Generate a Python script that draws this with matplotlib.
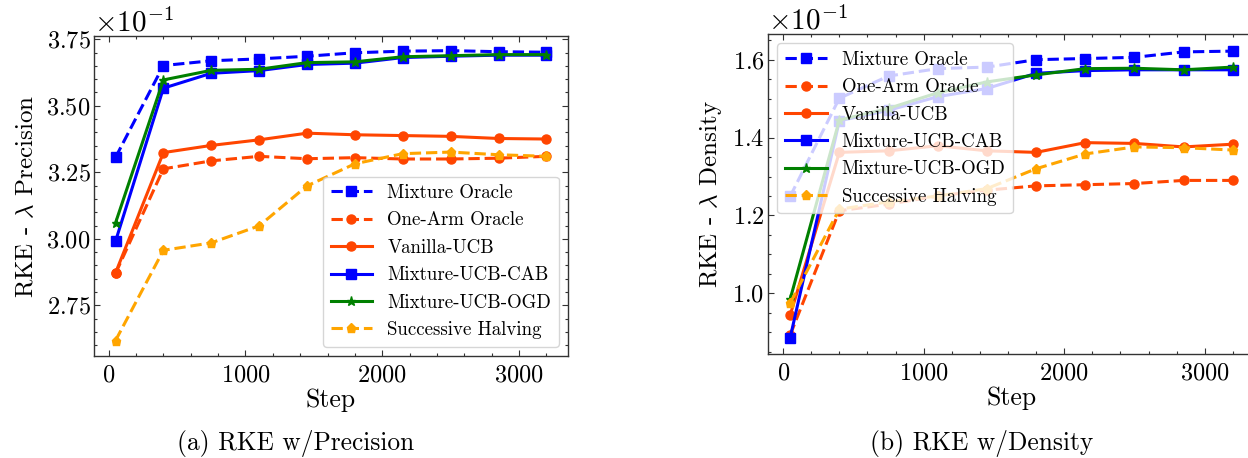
import matplotlib
matplotlib.use("Agg")
import matplotlib.pyplot as plt
from matplotlib.ticker import ScalarFormatter, AutoMinorLocator, MultipleLocator

plt.rcParams.update({
    "font.family": "serif",
    "font.serif": ["cmr10"],
    "mathtext.fontset": "cm",
    "axes.formatter.use_mathtext": True,
    "axes.unicode_minus": False,
})

steps = [50, 400, 750, 1100, 1450, 1800, 2150, 2500, 2850, 3200]

methods = ["Mixture Oracle", "One-Arm Oracle", "Vanilla-UCB",
           "Mixture-UCB-CAB", "Mixture-UCB-OGD", "Successive Halving"]

# RKE - lambda * Precision
prec_mixture_oracle = [0.3306, 0.3651, 0.3669, 0.3676, 0.3686, 0.3699, 0.3705, 0.3707, 0.3703, 0.3701]
prec_one_arm_oracle = [0.2870, 0.3263, 0.3293, 0.3310, 0.3301, 0.3305, 0.3300, 0.3300, 0.3303, 0.3310]
prec_vanilla_ucb = [0.2872, 0.3324, 0.3351, 0.3372, 0.3397, 0.3391, 0.3388, 0.3385, 0.3377, 0.3375]
prec_mixture_cab = [0.2991, 0.3566, 0.3622, 0.3632, 0.3655, 0.3660, 0.3681, 0.3686, 0.3690, 0.3690]
prec_mixture_ogd = [0.3060, 0.3597, 0.3633, 0.3637, 0.3662, 0.3665, 0.3684, 0.3688, 0.3692, 0.3692]
prec_succ_halving = [0.2618, 0.2957, 0.2985, 0.3049, 0.3199, 0.3282, 0.3320, 0.3326, 0.3316, 0.3310]

# RKE - lambda * Density
dens_mixture_oracle = [0.1249, 0.1501, 0.1558, 0.1577, 0.1581, 0.1600, 0.1603, 0.1606, 0.1620, 0.1622]
dens_one_arm_oracle = [0.0893, 0.1212, 0.1229, 0.1250, 0.1265, 0.1276, 0.1279, 0.1282, 0.1290, 0.1290]
dens_vanilla_ucb = [0.0944, 0.1362, 0.1366, 0.1379, 0.1366, 0.1362, 0.1387, 0.1385, 0.1376, 0.1383]
dens_mixture_cab = [0.0886, 0.1443, 0.1470, 0.1505, 0.1526, 0.1565, 0.1572, 0.1574, 0.1574, 0.1574]
dens_mixture_ogd = [0.0985, 0.1445, 0.1475, 0.1515, 0.1543, 0.1561, 0.1577, 0.1578, 0.1574, 0.1581]
dens_succ_halving = [0.0975, 0.1216, 0.1235, 0.1250, 0.1269, 0.1320, 0.1358, 0.1376, 0.1374, 0.1368]

styles = [
    dict(color="#0000FF", ls="--", marker="s"),
    dict(color="#FF4500", ls="--", marker="o"),
    dict(color="#FF4500", ls="-", marker="o"),
    dict(color="#0000FF", ls="-", marker="s"),
    dict(color="#008000", ls="-", marker="*"),
    dict(color="#FFA500", ls="--", marker="p"),
]

fig = plt.figure(figsize=(12.48, 4.58), dpi=100)
ax1 = fig.add_axes([0.0753, 0.2227, 0.3798, 0.6987])
ax2 = fig.add_axes([0.6154, 0.2260, 0.3902, 0.6998])

panels = [
    (ax1, [prec_mixture_oracle, prec_one_arm_oracle, prec_vanilla_ucb,
           prec_mixture_cab, prec_mixture_ogd, prec_succ_halving],
     r"RKE - $\lambda$ Precision", "lower right"),
    (ax2, [dens_mixture_oracle, dens_one_arm_oracle, dens_vanilla_ucb,
           dens_mixture_cab, dens_mixture_ogd, dens_succ_halving],
     r"RKE - $\lambda$ Density", "upper left"),
]

for ax, series, ylabel, loc in panels:
    for name, vals, st in zip(methods, series, styles):
        ax.plot(steps, vals, label=name, lw=2.2, markersize=6.5, **st)
    ax.set_xlabel("Step", fontsize=18.5, labelpad=1)
    ax.set_ylabel(ylabel, fontsize=18, labelpad=6)
    fmt = ScalarFormatter(useMathText=True)
    fmt.set_powerlimits((0, 0))
    ax.yaxis.set_major_formatter(fmt)
    ax.yaxis.get_offset_text().set_fontsize(21)
    ax.xaxis.set_major_locator(MultipleLocator(1000))
    ax.xaxis.set_minor_locator(MultipleLocator(200))
    ax.yaxis.set_minor_locator(AutoMinorLocator())
    ax.tick_params(which="both", direction="in", top=True, right=True,
                   labelsize=17.5, width=0.8, colors="#333333", labelcolor="black")
    ax.tick_params(which="major", length=4)
    ax.tick_params(which="minor", length=2)
    ax.tick_params(axis="y", which="major", pad=2.5)
    ax.tick_params(axis="x", which="major", pad=6)
    for sp in ax.spines.values():
        sp.set_linewidth(1.0)
        sp.set_color("#333333")
    ax.legend(loc=loc, fontsize=13.6, framealpha=0.8, handlelength=2.2,
              labelspacing=0.5)

ax1.set_yticks([0.275, 0.300, 0.325, 0.350, 0.375])
ax1.set_ylim(0.2560, 0.3762)
ax2.set_yticks([0.10, 0.12, 0.14, 0.16])
ax2.set_ylim(0.0843, 0.1666)

fig.text(177 / 1248, 1 - 450 / 458, "(a) RKE w/Precision", ha="left", va="baseline", fontsize=18.3)
fig.text(870 / 1248, 1 - 450 / 458, "(b) RKE w/Density", ha="left", va="baseline", fontsize=18.3)

fig.savefig("out.png", dpi=100)
